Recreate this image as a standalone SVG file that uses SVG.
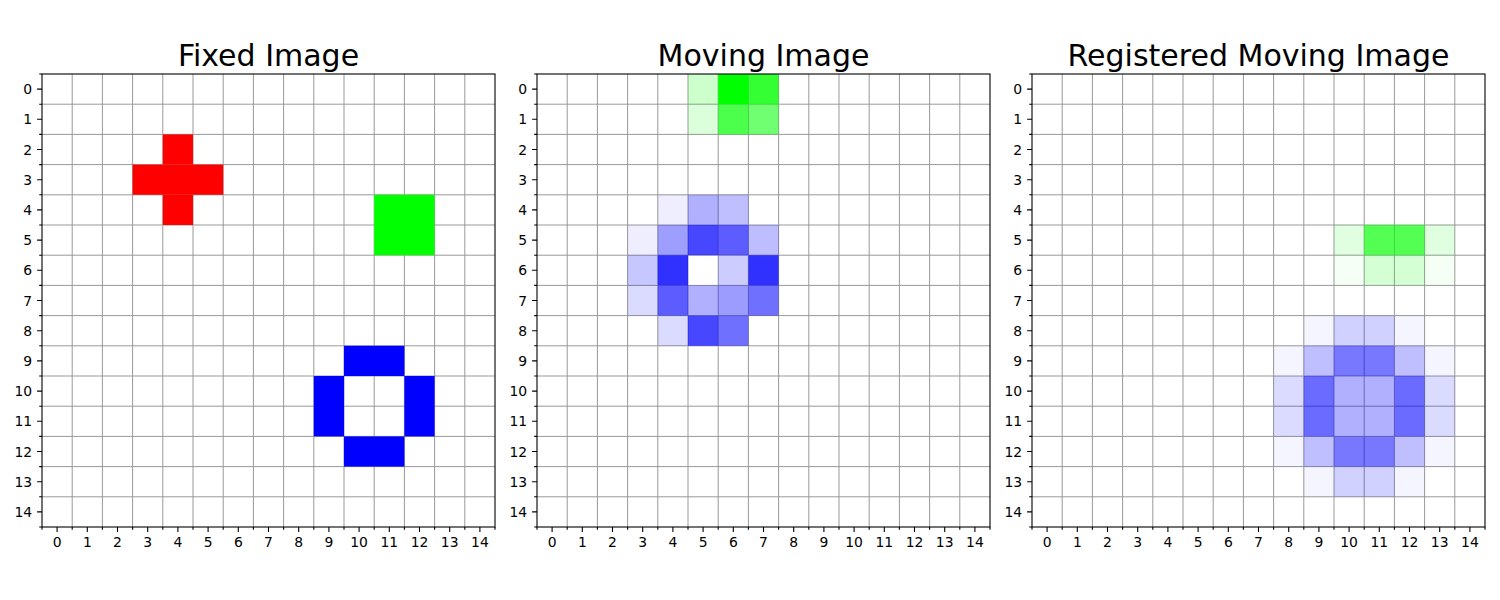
<svg xmlns="http://www.w3.org/2000/svg" xmlns:xlink="http://www.w3.org/1999/xlink" width="1500" height="600" viewBox="0 0 1500 600">
<style>
.title{font-family:"DejaVu Sans",sans-serif;font-size:30px;text-anchor:middle;fill:#000}
.tl{font-family:"DejaVu Sans",sans-serif;font-size:13.9px;fill:#000}
.xl{text-anchor:middle}
.yl{text-anchor:end}
.grid{stroke:#999;stroke-width:1;fill:none}
.spine{fill:none;stroke:#000;stroke-width:1.1}
.tick{stroke:#000;stroke-width:1.1;fill:none}
.r{fill:#ff0000}
.g{fill:#00ff00}
.b{fill:#0000ff}
</style>
<defs>
<g id="grid">
<path class="grid" d="M30.2 0V453M60.4 0V453M90.6 0V453M120.8 0V453M151 0V453M181.2 0V453M211.4 0V453M241.6 0V453M271.8 0V453M302 0V453M332.2 0V453M362.4 0V453M392.6 0V453M422.8 0V453M0 30.2H453M0 60.4H453M0 90.6H453M0 120.8H453M0 151H453M0 181.2H453M0 211.4H453M0 241.6H453M0 271.8H453M0 302H453M0 332.2H453M0 362.4H453M0 392.6H453M0 422.8H453"/>
</g>
<g id="frame">
<rect class="spine" x="0" y="0" width="453" height="453"/>
<path class="tick" d="M15.1 453v4.9M45.3 453v4.9M75.5 453v4.9M105.7 453v4.9M135.9 453v4.9M166.1 453v4.9M196.3 453v4.9M226.5 453v4.9M256.7 453v4.9M286.9 453v4.9M317.1 453v4.9M347.3 453v4.9M377.5 453v4.9M407.7 453v4.9M437.9 453v4.9M0 15.1h-4.9M0 45.3h-4.9M0 75.5h-4.9M0 105.7h-4.9M0 135.9h-4.9M0 166.1h-4.9M0 196.3h-4.9M0 226.5h-4.9M0 256.7h-4.9M0 286.9h-4.9M0 317.1h-4.9M0 347.3h-4.9M0 377.5h-4.9M0 407.7h-4.9M0 437.9h-4.9"/>
<path class="tick" d="M0 453v2.8M30.2 453v2.8M60.4 453v2.8M90.6 453v2.8M120.8 453v2.8M151 453v2.8M181.2 453v2.8M211.4 453v2.8M241.6 453v2.8M271.8 453v2.8M302 453v2.8M332.2 453v2.8M362.4 453v2.8M392.6 453v2.8M422.8 453v2.8M453 453v2.8M0 0h-2.8M0 30.2h-2.8M0 60.4h-2.8M0 90.6h-2.8M0 120.8h-2.8M0 151h-2.8M0 181.2h-2.8M0 211.4h-2.8M0 241.6h-2.8M0 271.8h-2.8M0 302h-2.8M0 332.2h-2.8M0 362.4h-2.8M0 392.6h-2.8M0 422.8h-2.8M0 453h-2.8"/>
<g class="tl xl">
<text x="15.1" y="472.5">0</text><text x="45.3" y="472.5">1</text><text x="75.5" y="472.5">2</text><text x="105.7" y="472.5">3</text><text x="135.9" y="472.5">4</text><text x="166.1" y="472.5">5</text><text x="196.3" y="472.5">6</text><text x="226.5" y="472.5">7</text><text x="256.7" y="472.5">8</text><text x="286.9" y="472.5">9</text><text x="317.1" y="472.5">10</text><text x="347.3" y="472.5">11</text><text x="377.5" y="472.5">12</text><text x="407.7" y="472.5">13</text><text x="437.9" y="472.5">14</text>
</g>
<g class="tl yl">
<text x="-9.8" y="20.1">0</text><text x="-9.8" y="50.3">1</text><text x="-9.8" y="80.5">2</text><text x="-9.8" y="110.7">3</text><text x="-9.8" y="140.9">4</text><text x="-9.8" y="171.1">5</text><text x="-9.8" y="201.3">6</text><text x="-9.8" y="231.5">7</text><text x="-9.8" y="261.7">8</text><text x="-9.8" y="291.9">9</text><text x="-9.8" y="322.1">10</text><text x="-9.8" y="352.3">11</text><text x="-9.8" y="382.5">12</text><text x="-9.8" y="412.7">13</text><text x="-9.8" y="442.9">14</text>
</g>
</g>
</defs>
<rect x="0" y="0" width="1500" height="600" fill="#fff"/>

<g id="fixed-image" transform="translate(42,74)">
<use xlink:href="#grid" href="#grid"/>
<g id="fixed-cross">
<rect class="r" x="120.8" y="60.4" width="30.2" height="30.2"/>
<rect class="r" x="90.6" y="90.6" width="90.6" height="30.2"/>
<rect class="r" x="120.8" y="120.8" width="30.2" height="30.2"/>
</g>
<g id="fixed-square">
<rect class="g" x="332.2" y="120.8" width="60.4" height="60.4"/>
</g>
<g id="fixed-ring">
<rect class="b" x="302" y="271.8" width="60.4" height="30.2"/>
<rect class="b" x="271.8" y="302" width="30.2" height="60.4"/>
<rect class="b" x="362.4" y="302" width="30.2" height="60.4"/>
<rect class="b" x="302" y="362.4" width="60.4" height="30.2"/>
</g>
<use xlink:href="#frame" href="#frame"/>
</g>
<text class="title" x="268.5" y="65.5">Fixed Image</text>

<g id="moving-image" transform="translate(537,74)">
<use xlink:href="#grid" href="#grid"/>
<g id="moving-green">
<rect class="g" x="151" y="0" width="30.2" height="30.2" fill-opacity="0.2"/>
<rect class="g" x="181.2" y="0" width="30.2" height="30.2"/>
<rect class="g" x="211.4" y="0" width="30.2" height="30.2" fill-opacity="0.8"/>
<rect class="g" x="151" y="30.2" width="30.2" height="30.2" fill-opacity="0.14"/>
<rect class="g" x="181.2" y="30.2" width="30.2" height="30.2" fill-opacity="0.7"/>
<rect class="g" x="211.4" y="30.2" width="30.2" height="30.2" fill-opacity="0.56"/>
</g>
<g id="moving-blue">
<rect class="b" x="120.8" y="120.8" width="30.2" height="30.2" fill-opacity="0.067"/>
<rect class="b" x="151" y="120.8" width="30.2" height="30.2" fill-opacity="0.31"/>
<rect class="b" x="181.2" y="120.8" width="30.2" height="30.2" fill-opacity="0.25"/>
<rect class="b" x="90.6" y="151" width="30.2" height="30.2" fill-opacity="0.067"/>
<rect class="b" x="120.8" y="151" width="30.2" height="30.2" fill-opacity="0.38"/>
<rect class="b" x="151" y="151" width="30.2" height="30.2" fill-opacity="0.72"/>
<rect class="b" x="181.2" y="151" width="30.2" height="30.2" fill-opacity="0.64"/>
<rect class="b" x="211.4" y="151" width="30.2" height="30.2" fill-opacity="0.26"/>
<rect class="b" x="90.6" y="181.2" width="30.2" height="30.2" fill-opacity="0.22"/>
<rect class="b" x="120.8" y="181.2" width="30.2" height="30.2" fill-opacity="0.81"/>
<rect class="b" x="181.2" y="181.2" width="30.2" height="30.2" fill-opacity="0.2"/>
<rect class="b" x="211.4" y="181.2" width="30.2" height="30.2" fill-opacity="0.81"/>
<rect class="b" x="90.6" y="211.4" width="30.2" height="30.2" fill-opacity="0.14"/>
<rect class="b" x="120.8" y="211.4" width="30.2" height="30.2" fill-opacity="0.64"/>
<rect class="b" x="151" y="211.4" width="30.2" height="30.2" fill-opacity="0.31"/>
<rect class="b" x="181.2" y="211.4" width="30.2" height="30.2" fill-opacity="0.39"/>
<rect class="b" x="211.4" y="211.4" width="30.2" height="30.2" fill-opacity="0.56"/>
<rect class="b" x="120.8" y="241.6" width="30.2" height="30.2" fill-opacity="0.14"/>
<rect class="b" x="151" y="241.6" width="30.2" height="30.2" fill-opacity="0.72"/>
<rect class="b" x="181.2" y="241.6" width="30.2" height="30.2" fill-opacity="0.56"/>
</g>
<use xlink:href="#frame" href="#frame"/>
</g>
<text class="title" x="763.5" y="65.5">Moving Image</text>

<g id="registered-image" transform="translate(1032,74)">
<use xlink:href="#grid" href="#grid"/>
<g id="registered-green">
<rect class="g" x="302" y="151" width="30.2" height="30.2" fill-opacity="0.12"/>
<rect class="g" x="332.2" y="151" width="60.4" height="30.2" fill-opacity="0.67"/>
<rect class="g" x="392.6" y="151" width="30.2" height="30.2" fill-opacity="0.12"/>
<rect class="g" x="302" y="181.2" width="30.2" height="30.2" fill-opacity="0.04"/>
<rect class="g" x="332.2" y="181.2" width="60.4" height="30.2" fill-opacity="0.17"/>
<rect class="g" x="392.6" y="181.2" width="30.2" height="30.2" fill-opacity="0.04"/>
</g>
<g id="registered-blue">
<rect class="b" x="271.8" y="241.6" width="30.2" height="30.2" fill-opacity="0.04"/>
<rect class="b" x="302" y="241.6" width="60.4" height="30.2" fill-opacity="0.18"/>
<rect class="b" x="362.4" y="241.6" width="30.2" height="30.2" fill-opacity="0.04"/>
<rect class="b" x="241.6" y="271.8" width="30.2" height="30.2" fill-opacity="0.04"/>
<rect class="b" x="271.8" y="271.8" width="30.2" height="30.2" fill-opacity="0.25"/>
<rect class="b" x="302" y="271.8" width="60.4" height="30.2" fill-opacity="0.53"/>
<rect class="b" x="362.4" y="271.8" width="30.2" height="30.2" fill-opacity="0.25"/>
<rect class="b" x="392.6" y="271.8" width="30.2" height="30.2" fill-opacity="0.04"/>
<rect class="b" x="241.6" y="302" width="30.2" height="60.4" fill-opacity="0.14"/>
<rect class="b" x="271.8" y="302" width="30.2" height="60.4" fill-opacity="0.58"/>
<rect class="b" x="302" y="302" width="60.4" height="60.4" fill-opacity="0.31"/>
<rect class="b" x="362.4" y="302" width="30.2" height="60.4" fill-opacity="0.58"/>
<rect class="b" x="392.6" y="302" width="30.2" height="60.4" fill-opacity="0.14"/>
<rect class="b" x="241.6" y="362.4" width="30.2" height="30.2" fill-opacity="0.04"/>
<rect class="b" x="271.8" y="362.4" width="30.2" height="30.2" fill-opacity="0.25"/>
<rect class="b" x="302" y="362.4" width="60.4" height="30.2" fill-opacity="0.53"/>
<rect class="b" x="362.4" y="362.4" width="30.2" height="30.2" fill-opacity="0.25"/>
<rect class="b" x="392.6" y="362.4" width="30.2" height="30.2" fill-opacity="0.04"/>
<rect class="b" x="271.8" y="392.6" width="30.2" height="30.2" fill-opacity="0.04"/>
<rect class="b" x="302" y="392.6" width="60.4" height="30.2" fill-opacity="0.18"/>
<rect class="b" x="362.4" y="392.6" width="30.2" height="30.2" fill-opacity="0.04"/>
</g>
<use xlink:href="#frame" href="#frame"/>
</g>
<text class="title" x="1258.5" y="65.5">Registered Moving Image</text>
</svg>
